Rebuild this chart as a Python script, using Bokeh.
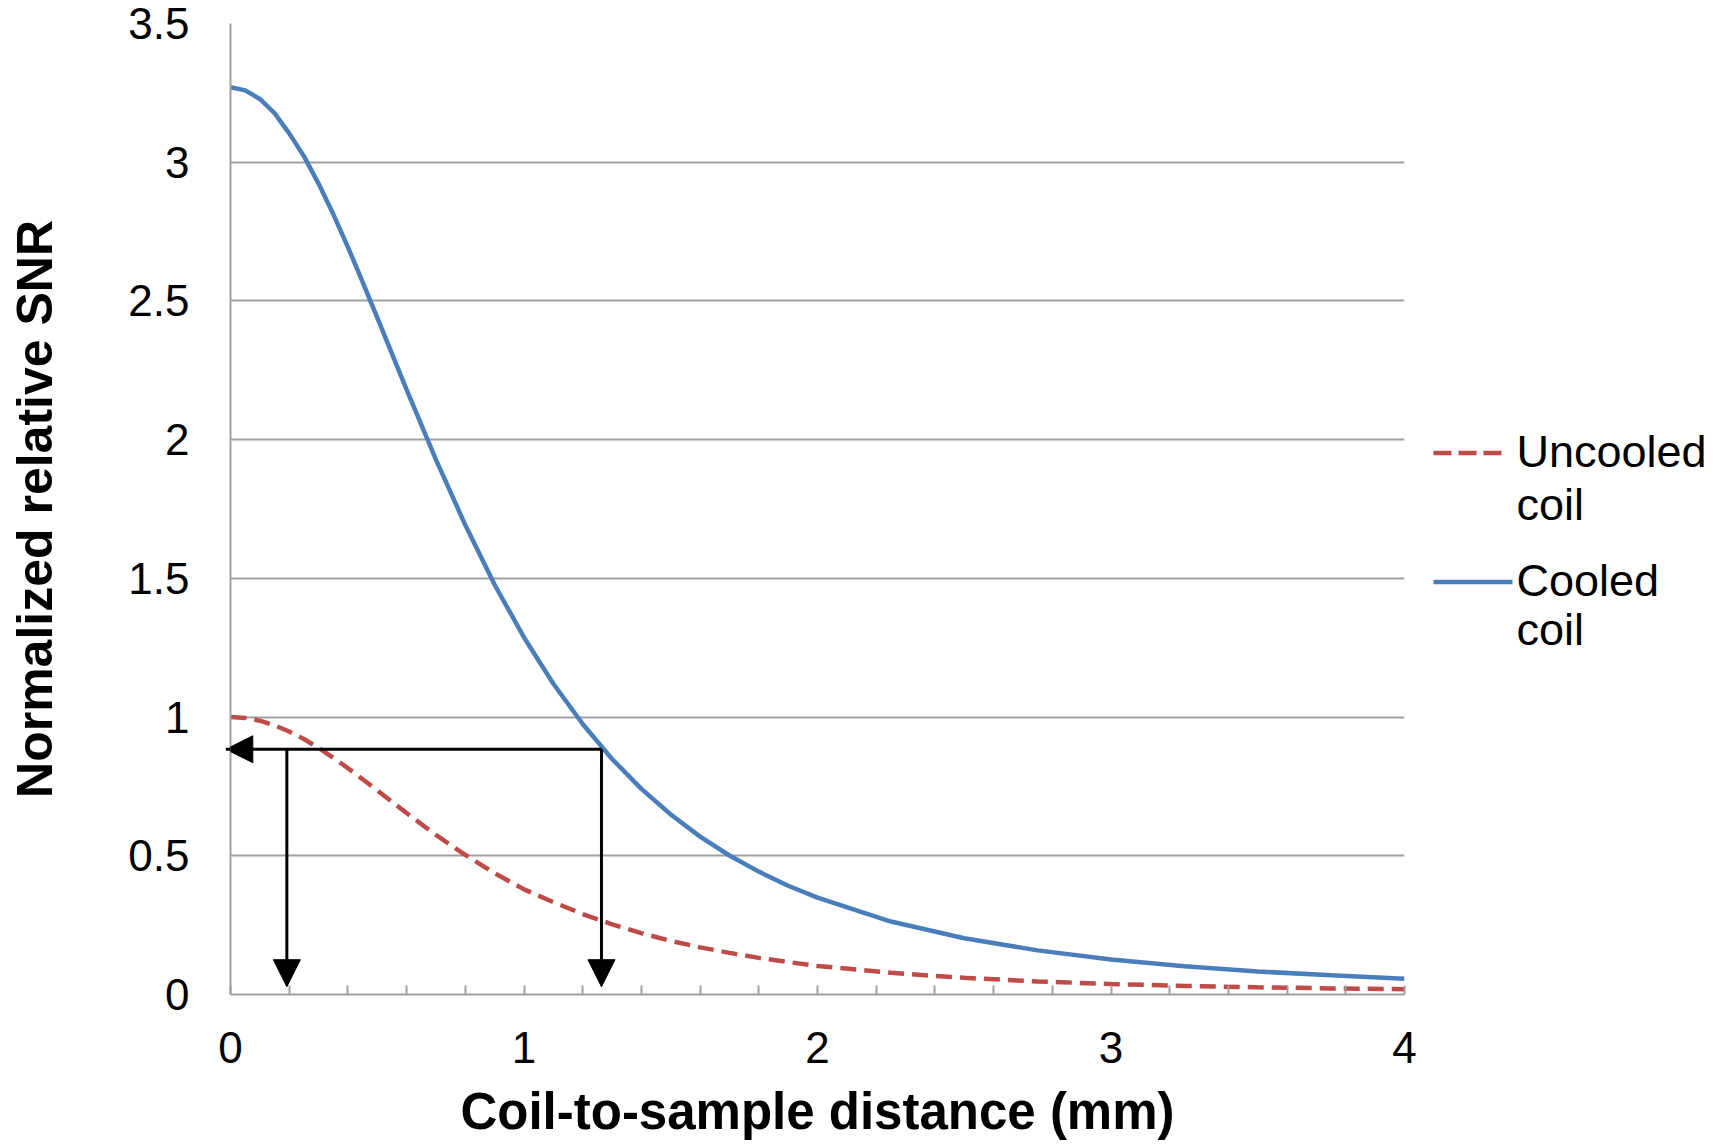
from bokeh.plotting import figure
from bokeh.layouts import row
from bokeh.models import Range1d, Arrow, NormalHead, FixedTicker
from bokeh.core.properties import value
from bokeh.embed import file_html
from bokeh.resources import INLINE

# ---- data ----
distance = [0.0, 0.05, 0.1, 0.15, 0.2, 0.25, 0.3, 0.35, 0.4, 0.45, 0.5, 0.55, 0.6,
            0.7, 0.8, 0.9, 1.0, 1.1, 1.2, 1.3, 1.4, 1.5, 1.6, 1.7, 1.8, 1.9, 2.0,
            2.25, 2.5, 2.75, 3.0, 3.25, 3.5, 3.75, 4.0]
cooled = [3.270, 3.259, 3.228, 3.177, 3.104, 3.022, 2.923, 2.813, 2.694, 2.569,
          2.440, 2.310, 2.180, 1.928, 1.692, 1.477, 1.287, 1.120, 0.975, 0.849,
          0.741, 0.649, 0.569, 0.501, 0.443, 0.392, 0.349, 0.263, 0.203, 0.159,
          0.126, 0.102, 0.083, 0.069, 0.057]
uncooled = [1.000, 0.997, 0.987, 0.970, 0.948, 0.921, 0.889, 0.853, 0.816, 0.776,
            0.736, 0.695, 0.654, 0.575, 0.503, 0.437, 0.379, 0.333, 0.290, 0.253,
            0.221, 0.193, 0.170, 0.150, 0.132, 0.117, 0.103, 0.078, 0.060, 0.047,
            0.038, 0.031, 0.026, 0.022, 0.019]
series_names = ["Uncooled\ncoil", "Cooled\ncoil"]
y_ticks = [0, 0.5, 1, 1.5, 2, 2.5, 3, 3.5]
y_tick_labels = ["0", "0.5", "1", "1.5", "2", "2.5", "3", "3.5"]
x_ticks = [0, 1, 2, 3, 4]
x_minor_ticks = [0.2, 0.4, 0.6, 0.8, 1.2, 1.4, 1.6, 1.8, 2.2, 2.4, 2.6, 2.8,
                 3.2, 3.4, 3.6, 3.8]
# arrows marking the equal-SNR construction
arrow_level = 0.884
arrow_x_near = 0.192
arrow_x_far = 1.264

BLUE = "#4A7EBB"
RED = "#BE4B48"
GRID = "#A0A0A0"
FONT = "Liberation Sans"

W, H = 1714, 1145
LEFT, TOP, BOTTOM, RIGHT = 230, 23, 151, 20
MAIN_W = 1424

p = figure(width=MAIN_W, height=H, output_backend="svg", toolbar_location=None,
           x_range=Range1d(0, 4), y_range=Range1d(0, 3.5),
           min_border_left=LEFT, min_border_right=RIGHT, min_border_top=TOP,
           min_border_bottom=BOTTOM)
p.outline_line_color = None
p.background_fill_color = "white"
p.border_fill_color = "white"
p.xgrid.grid_line_color = None
p.ygrid.ticker = FixedTicker(ticks=y_ticks)
p.ygrid.grid_line_color = GRID
p.ygrid.grid_line_width = 2

# x axis
xa = p.xaxis[0]
xa.ticker = FixedTicker(ticks=x_ticks, minor_ticks=x_minor_ticks)
xa.axis_line_color = GRID
xa.axis_line_width = 2
xa.major_tick_in = 9
xa.major_tick_out = 0
xa.minor_tick_in = 9
xa.minor_tick_out = 0
xa.major_tick_line_color = GRID
xa.minor_tick_line_color = GRID
xa.major_tick_line_width = 2
xa.minor_tick_line_width = 2
xa.major_label_text_font = FONT
xa.major_label_text_font_size = "44px"
xa.major_label_text_color = "black"
xa.major_label_standoff = 37
xa.axis_label = "Coil-to-sample distance (mm)"
xa.axis_label_text_font = FONT
xa.axis_label_text_font_size = "51px"
xa.axis_label_text_font_style = "bold"
xa.axis_label_text_color = "black"
xa.axis_label_standoff = 17

# y axis
ya = p.yaxis[0]
ya.ticker = FixedTicker(ticks=y_ticks)
ya.major_label_overrides = {t: s for t, s in zip(y_ticks, y_tick_labels)}
ya.axis_line_color = GRID
ya.axis_line_width = 2
ya.major_tick_line_color = None
ya.minor_tick_line_color = None
ya.major_tick_in = 0
ya.major_tick_out = 0
ya.major_label_text_font = FONT
ya.major_label_text_font_size = "44px"
ya.major_label_text_color = "black"
ya.major_label_standoff = 41
ya.axis_label = "Normalized relative SNR"
ya.axis_label_text_font = FONT
ya.axis_label_text_font_size = "50px"
ya.axis_label_text_font_style = "bold"
ya.axis_label_text_color = "black"
ya.axis_label_standoff = 62

# curves
p.line(distance, uncooled, line_color=RED, line_width=4.5, line_dash="16 8")
p.line(distance, cooled, line_color=BLUE, line_width=4.5)

# arrows
head = dict(size=27, fill_color="black", line_color="black")
p.add_layout(Arrow(end=NormalHead(**head), x_start=arrow_x_far, y_start=arrow_level,
                   x_end=-0.016, y_end=arrow_level, line_color="black", line_width=3))
p.add_layout(Arrow(end=NormalHead(**head), x_start=arrow_x_near, y_start=arrow_level,
                   x_end=arrow_x_near, y_end=0.028, line_color="black", line_width=3))
p.add_layout(Arrow(end=NormalHead(**head), x_start=arrow_x_far, y_start=arrow_level,
                   x_end=arrow_x_far, y_end=0.028, line_color="black", line_width=3))

# legend panel to the right (x in page pixels, y shares the plot's scale)
leg = figure(width=W - MAIN_W, height=H, output_backend="svg", toolbar_location=None,
             x_range=Range1d(MAIN_W, W), y_range=Range1d(0, 3.5),
             x_axis_type=None, y_axis_type=None,
             min_border_left=0, min_border_right=0, min_border_top=TOP,
             min_border_bottom=BOTTOM)
leg.outline_line_color = None
leg.xgrid.grid_line_color = None
leg.ygrid.grid_line_color = None
leg.background_fill_color = "white"
leg.border_fill_color = "white"
leg.line([1433, 1502], [1.952, 1.952], line_color=RED, line_width=4.5, line_dash="18 7")
leg.line([1433, 1512], [1.487, 1.487], line_color=BLUE, line_width=4.5)
leg_text, leg_y = [], []
for name, ys in zip(series_names, [(1.959, 1.767), (1.491, 1.317)]):
    for line_txt, yy in zip(name.split("\n"), ys):
        leg_text.append(line_txt)
        leg_y.append(yy)
leg.text(x=[1516] * len(leg_text), y=leg_y, text=leg_text, text_font=value(FONT),
         text_font_size="45px", text_color="black", text_baseline="alphabetic",
         text_align="left")

open("out.html", "w").write(file_html(row(p, leg), INLINE))
